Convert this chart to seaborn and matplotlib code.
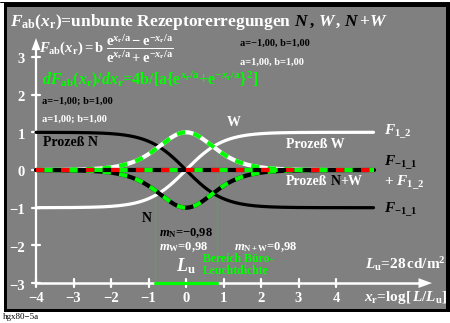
import numpy as np
import matplotlib
matplotlib.use("Agg")
import matplotlib.pyplot as plt
from matplotlib.patches import Rectangle
import seaborn as sns

# ---- chart values ----------------------------------------------------
a_N, b_N = -1.0, 1.0          # process N  (F_-1_1)
a_W, b_W = 1.0, 1.0           # process W  (F_1_2)
x_lo, x_hi = -4.0, 5.0        # range of the drawn curves
office_lo, office_hi = -0.82, 0.82   # Bereich Büro-Leuchtdichte
x_ticks = [-4, -3, -2, -1, 0, 1, 2, 3, 4]
y_ticks = [-3, -2, -1, 0, 1, 2, 3]
m_N, m_W, m_NW = -0.98, 0.98, 0.98
L_u = 28

GRAY = "#808080"
GREEN = "#00ff00"
RED = "#ff0000"

sns.set_style("white")
plt.rcParams["font.family"] = ["Liberation Serif", "DejaVu Serif"]
plt.rcParams["font.weight"] = "bold"
plt.rcParams["mathtext.fontset"] = "custom"
plt.rcParams["mathtext.rm"] = "Liberation Serif:bold"
plt.rcParams["mathtext.bf"] = "Liberation Serif:bold"
plt.rcParams["mathtext.it"] = "Liberation Serif:italic:bold"

W, H = 450, 323
X0, Y0, SX, SY = 186.0, 170.0, 37.5, 37.7   # data origin / scale in pixels

fig = plt.figure(figsize=(W / 100, H / 100), dpi=100)
fig.patch.set_facecolor("white")

# frame
fig.patches.append(Rectangle((4 / W, 1 - 311.7 / H), (450 - 4) / W, (311.7 - 3.3) / H,
                             transform=fig.transFigure, facecolor="black",
                             edgecolor="none", zorder=-3))
fig.patches.append(Rectangle((7.3 / W, 1 - 308.7 / H), (446 - 7.3) / W, (308.7 - 6.7) / H,
                             transform=fig.transFigure, facecolor=GRAY,
                             edgecolor="none", zorder=-2))
fig.lines.append(plt.Line2D([0, 1], [1 - 1.5 / H] * 2, transform=fig.transFigure,
                            color="black", lw=0.7, zorder=-1))

ax = fig.add_axes([0, 0, 1, 1])
ax.set_zorder(1)
ax.patch.set_visible(False)
ax.set_xlim(-X0 / SX, (W - X0) / SX)
ax.set_ylim(-(H - Y0) / SY, Y0 / SY)
ax.axis("off")

# ---- curves ----------------------------------------------------------
x = np.linspace(x_lo, x_hi, 500)


def F(x, a, b):
    return b * (np.exp(x / a) - np.exp(-x / a)) / (np.exp(x / a) + np.exp(-x / a))


def dF(x, a, b):
    return 4 * b / (a * (np.exp(x / a) + np.exp(-x / a)) ** 2)


FN, FW = F(x, a_N, b_N), F(x, a_W, b_W)
dN, dW = dF(x, a_N, b_N), dF(x, a_W, b_W)

# axes (white) with arrows
ax.plot([-4, -4], [-3, 3.2], color="white", lw=1.6, zorder=2, solid_capstyle="butt")
ax.plot([-4, 6.3], [-3, -3], color="white", lw=1.8, zorder=2, solid_capstyle="butt")
ax.fill([-4 - 0.12, -4, -4 + 0.12], [3.18, 3.50, 3.18], color="white", zorder=2, lw=0)
ax.fill([6.2, 6.56, 6.2], [-3 - 0.13, -3, -3 + 0.13], color="white", zorder=2, lw=0)
for t in y_ticks:
    ax.plot([-4 - 0.11, -4 + 0.11], [t, t], color="white", lw=1.6, zorder=2)
for t in x_ticks:
    ax.plot([t, t], [-3 - 0.11, -3 + 0.11], color="white", lw=1.6, zorder=2)

sns.lineplot(x=x, y=FN, ax=ax, color="black", lw=2.3, zorder=3)
sns.lineplot(x=x, y=FW, ax=ax, color="white", lw=2.3, zorder=3)

# derivative curves: solid base with green dashes
sns.lineplot(x=x, y=dW, ax=ax, color="white", lw=3.0, zorder=4)
sns.lineplot(x=x, y=dW, ax=ax, color=GREEN, lw=3.0, zorder=4, linestyle=(0, (2, 2)))
sns.lineplot(x=x, y=dN, ax=ax, color="black", lw=3.0, zorder=4)
sns.lineplot(x=x, y=dN, ax=ax, color=GREEN, lw=3.0, zorder=4, linestyle=(0, (2, 2)))

# sum of both processes
S = FN + FW
sns.lineplot(x=x, y=S, ax=ax, color="black", lw=3.0, zorder=5)
sns.lineplot(x=x, y=S, ax=ax, color=RED, lw=3.0, zorder=5, linestyle=(0, (2, 4)))
sns.lineplot(x=x, y=S, ax=ax, color=GREEN, lw=3.0, zorder=5, linestyle=(4, (2, 4)))

# office luminance range
for xv in (office_lo, office_hi):
    sns.lineplot(x=[xv, xv], y=[F(xv, a_W, b_W), -3], ax=ax, color=GREEN, lw=2.0,
                 zorder=6, linestyle=(0, (2.6, 1.5)))
sns.lineplot(x=[office_lo, office_hi], y=[-3, -3], ax=ax, color=GREEN, lw=2.3, zorder=6)

# ---- texts -----------------------------------------------------------
R = fig.canvas.get_renderer()


def put(px, py, s, color, size, ha="left", va="center", **kw):
    return fig.text(px / W, 1 - py / H, s, color=color, fontsize=size, ha=ha, va=va,
                    fontweight="bold", **kw)


def put_seq(px, py, pieces, size, va="baseline"):
    """Write coloured pieces one after another; a number is a gap in pixels."""
    for p in pieces:
        if isinstance(p, (int, float)):
            px += p
            continue
        s, c = p
        t = put(px, py, s, c, size, va=va)
        px += t.get_window_extent(R).width


def fmt(v):
    return f"{v:.2f}".replace(".", ",").replace("-", "\u2212")


put_seq(10, 26, [(r"$F_{\rm ab}(x_{\rm r})$=unbunte Rezeptorerregungen", "white"), 3,
                 (r"$N$", "black"), (",", "black"), 4, (r"$W$", "white"), (",", "white"), 4,
                 (r"$N$", "black"), ("+", "white"), (r"$W$", "white")], 12.5)

put(39, 49, r"$F_{\rm ab}(x_{\rm r})={\rm b}\;\dfrac{{\rm e}^{x_{\rm r}/{\rm a}}-{\rm e}^{-x_{\rm r}/{\rm a}}}"
            r"{{\rm e}^{x_{\rm r}/{\rm a}}+{\rm e}^{-x_{\rm r}/{\rm a}}}$", "white", 10.5)
put(42, 80, r"$dF_{\rm ab}(x_{\rm r})/dx_{\rm r}$=4b/[a{${\rm e}^{x_{\rm r}/{\rm a}}$+${\rm e}^{-x_{\rm r}/{\rm a}}$}$^2$]",
    GREEN, 11.5)

put(240, 43, f"a={fmt(a_N)}, b={fmt(b_N)}", "black", 7.5)
put(240, 62, f"a={fmt(a_W)}, b={fmt(b_W)}", "white", 7.5)
put(42, 101, f"a={fmt(a_N)}; b={fmt(b_N)}", "black", 7.5)
put(42, 119, f"a={fmt(a_W)}; b={fmt(b_W)}", "white", 7.5)

# tick labels
for t in y_ticks:
    put(25, Y0 - SY * t + 3, f"{t}".replace("-", "\u2212"), "white", 10.5, ha="right")
for t in x_ticks:
    put(X0 + SX * t, 298, f"{t}".replace("-", "\u2212"), "white", 10.5, ha="center")
put(447, 298, r"$x_{\rm r}$=log[$\,L/L_{\rm u}$]", "white", 11, ha="right")

# process labels
put(43, 143, "Prozeß N", "black", 10)
put(286, 144, "Prozeß W", "white", 10)
put_seq(286, 185, [("Prozeß", "white"), 3, ("N", "black"), ("+W", "white")], 10)
put(227, 123, "W", "white", 10)
put(142, 218, "N", "black", 10)

put(384, 132, r"$F_{1\_2}$", "white", 11)
put(384, 163, r"$F_{-1\_1}$", "black", 11)
put(384, 183, r"+ $F_{1\_2}$", "white", 11)
put(384, 210, r"$F_{-1\_1}$", "black", 11)

put(159, 233, r"$m_{\rm N}$=" + fmt(m_N), "black", 9)
put(159, 247, r"$m_{\rm W}$=" + fmt(m_W), "white", 9)
put(234, 247, r"$m_{\rm N+W}$=" + fmt(m_NW), "white", 9)
put(176, 266, r"$L_{\rm u}$", "white", 13)
put(203, 259, "Bereich Büro-", GREEN, 8.5)
put(203, 271, "Leuchtdichte", GREEN, 8.5)
put(446, 264, r"$L_{\rm u}$=" + f"{L_u}" + r"$\,$cd/m$^2$", "white", 11, ha="right")

fig.text(3 / W, 1 - 317 / H, "hgx80\u22125a", color="black", fontsize=6.5,
         fontweight="normal", va="center")

fig.savefig("out.png", dpi=100, facecolor="white")
